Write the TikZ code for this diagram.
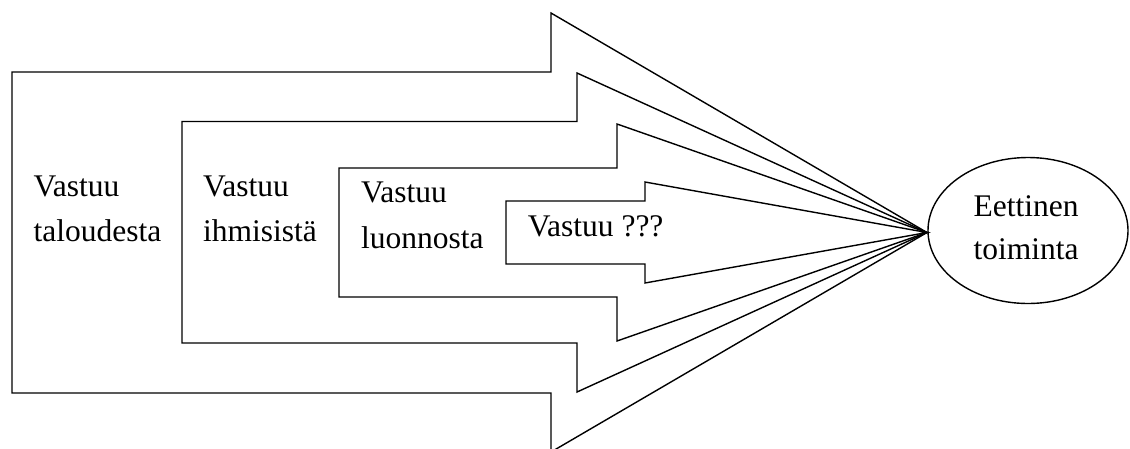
\documentclass[tikz,border=0pt]{standalone}
\usepackage{fontspec}
\setmainfont{Liberation Serif}
\usetikzlibrary{shapes.geometric}
\begin{document}
\begin{tikzpicture}[x=1pt,y=-1pt,
  arrowshape/.style={draw=black,line width=1.4pt,line join=miter},
  lbl/.style={anchor=base west,inner sep=0pt,font=\fontsize{31.5}{40}\selectfont},
  clbl/.style={anchor=base,inner sep=0pt,font=\fontsize{31.5}{40}\selectfont},
  goal/.style={ellipse,draw=black,line width=1.4pt,minimum width=200pt,minimum height=146pt,inner sep=0pt}]
  \useasboundingbox (0,0) rectangle (1130,448);
  \clip (0,0) rectangle (1130,448);
  % common tip of all four arrows
  \coordinate (tip) at (927,232.5);
  % nested block arrows, outermost first
  \draw[arrowshape] (12,72) -- (551,72) -- (551,13) -- (tip) -- (551,452) -- (551,393) -- (12,393) -- cycle;
  \draw[arrowshape] (182,121.5) -- (577,121.5) -- (577,73) -- (tip) -- (577,392) -- (577,343) -- (182,343) -- cycle;
  \draw[arrowshape] (339,168) -- (617,168) -- (617,124) -- (tip) -- (617,341) -- (617,297) -- (339,297) -- cycle;
  \draw[arrowshape] (506,201) -- (645,201) -- (645,182) -- (tip) -- (645,283) -- (645,264) -- (506,264) -- cycle;
  % goal
  \node[goal] (etiikka) at (1028,230.5) {};
  \node[clbl] (et1) at (1026,216.7) {Eettinen};
  \node[clbl] (et2) at (1026,259.3) {toiminta};
  % labels
  \node[lbl] (t1) at (33.5,196.7) {Vastuu};
  \node[lbl] (t2) at (33.5,241.7) {taloudesta};
  \node[lbl] (i1) at (203,196.7) {Vastuu};
  \node[lbl] (i2) at (203,241.7) {ihmisistä};
  \node[lbl] (l1) at (361,202.7) {Vastuu};
  \node[lbl] (l2) at (361,248.3) {luonnosta};
  \node[lbl] (q1) at (527.7,236) {Vastuu ???};
\end{tikzpicture}
\end{document}
